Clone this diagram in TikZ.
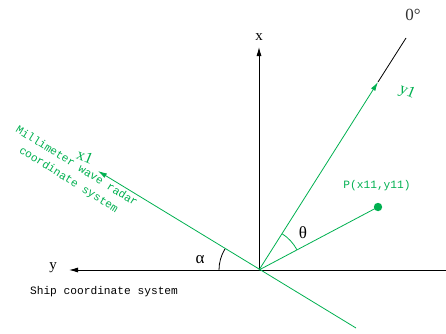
\documentclass[tikz,border=0pt]{standalone}
\usepackage{fontspec}
\setmainfont{Liberation Serif}
\newfontfamily\monof{Liberation Mono}
\usetikzlibrary{arrows.meta,angles}
\definecolor{rgreen}{HTML}{00B050}
\tikzset{
  axisline/.style={line width=0.8pt,black},
  gline/.style={line width=0.8pt,rgreen},
  tipk/.style={-{Latex[length=9pt,width=5pt]}},
  smalltxt/.style={font=\monof\fontsize{11.2}{13}\selectfont},
  bigtxt/.style={font=\fontsize{15}{17}\selectfont},
  gaxislabel/.style={text=rgreen,font=\fontsize{16}{18}\selectfont,rotate=-22},
}
\begin{document}
\begin{tikzpicture}[x=1pt,y=1pt]
\useasboundingbox (0,0) rectangle (446,333);
\coordinate (O) at (259,63);
\coordinate (xtip) at (259,286);
\coordinate (yend) at (446,63);
\coordinate (ytip) at (69,63);
\coordinate (xonetip) at (98,162);
\coordinate (xoneend) at (356,5);
\coordinate (yonetip) at (378,251);
\coordinate (zeroend) at (406,295);
\coordinate (P) at (378,126);
% ship axes
\draw[axisline,tipk] (O) -- (xtip);
\draw[axisline,tipk] (yend) -- (ytip);
\node[bigtxt] (xl) at (259,296) {x};
\node[bigtxt] (yl) at (53,65) {y};
\node[smalltxt,black] (ship) at (104,41) {Ship coordinate system};
% radar axes
\draw[gline,tipk] (xoneend) -- (xonetip);
\draw[gline,tipk] (O) -- (yonetip);
\draw[axisline] (yonetip) -- (zeroend);
\node[font=\fontsize{17}{19}\selectfont,text=black!80] (zero) at (413,318) {0°};
\node[gaxislabel] (yonel) at (407,241) {y1};
\node[gaxislabel] (xonel) at (85,176) {x1};
\node[smalltxt,text=rgreen,rotate=-32] (rad1) at (77,167.5) {Millimeter wave radar};
\node[smalltxt,text=rgreen,rotate=-32] (rad2) at (68.5,153) {coordinate system};
% point P
\draw[gline] (O) -- (P);
\fill[rgreen] (P) circle (4.2);
\node[smalltxt,text=rgreen] (pl) at (377,147) {P(x11,y11)};
% angles
\pic[draw=rgreen,line width=0.8pt,angle radius=43] {angle = P--O--yonetip};
\pic[draw=black,line width=0.8pt,angle radius=40] {angle = xonetip--O--ytip};
\node[font=\fontsize{17}{19}\selectfont] (th) at (303,100) {θ};
\node[font=\fontsize{17}{19}\selectfont] (al) at (200,73) {α};
\end{tikzpicture}
\end{document}
